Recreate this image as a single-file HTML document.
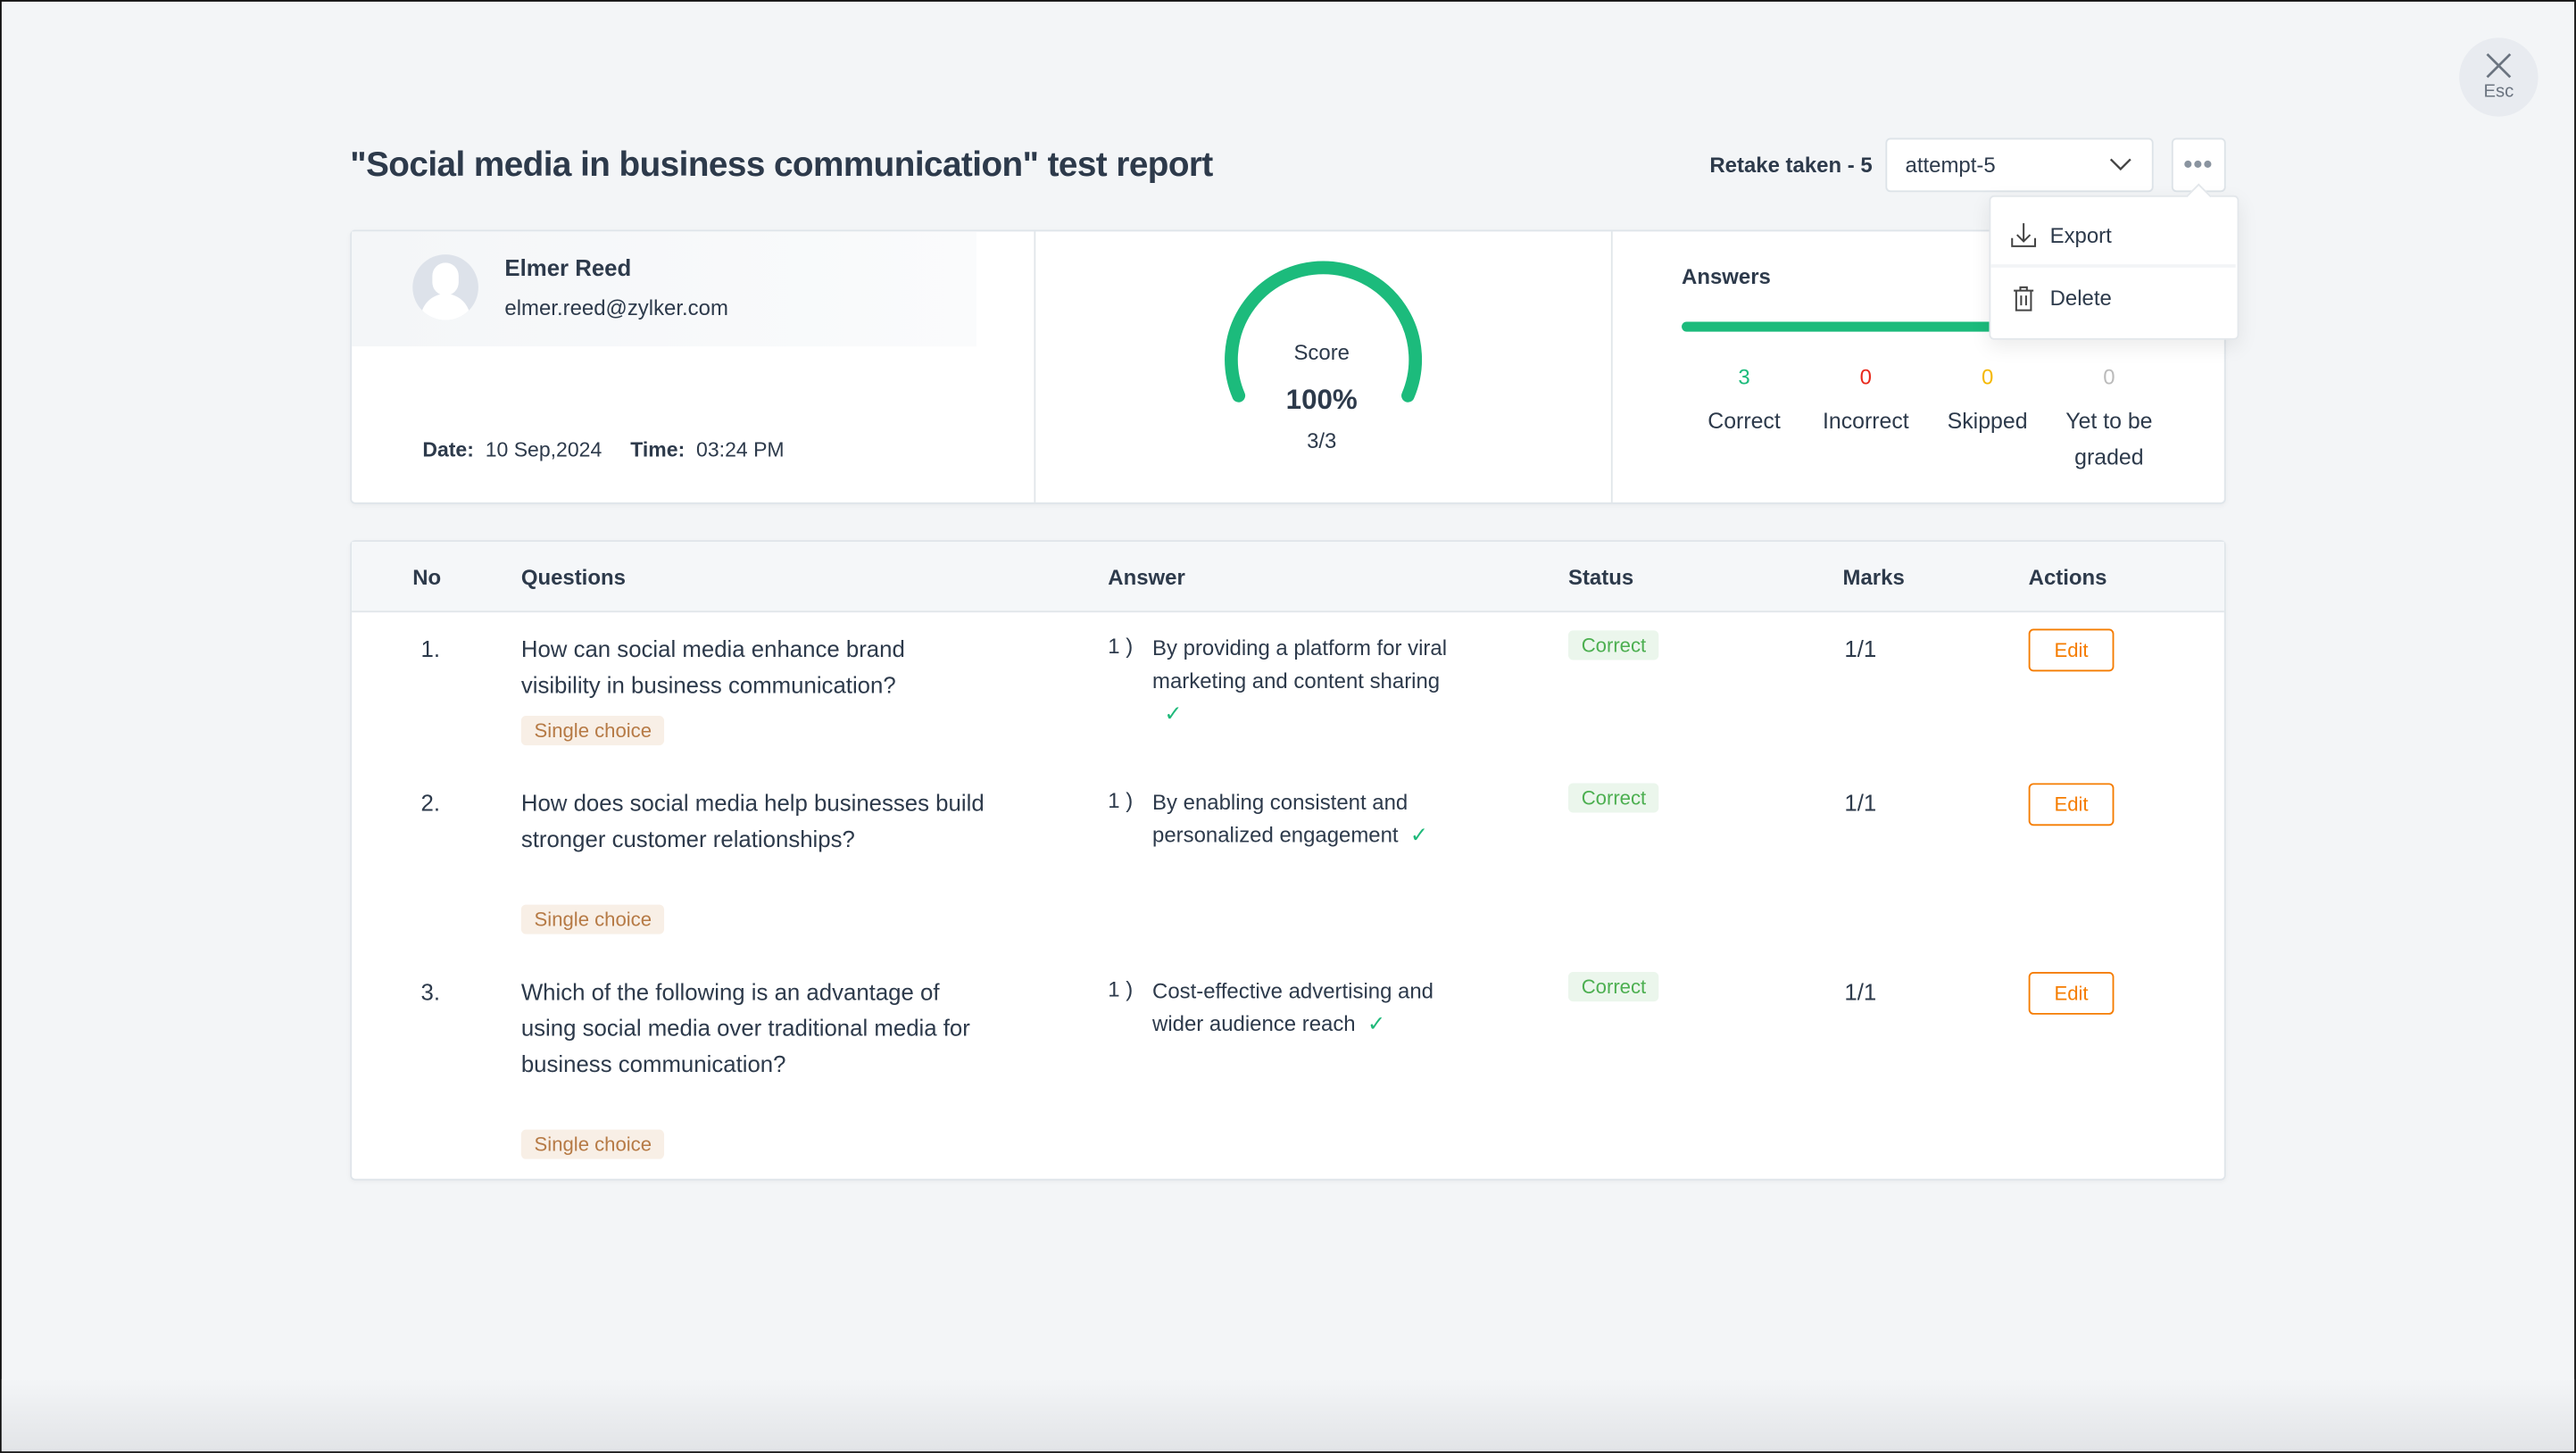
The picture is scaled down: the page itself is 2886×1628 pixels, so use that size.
<!DOCTYPE html>
<html><head><meta charset="utf-8"><style>
html,body{margin:0;padding:0;}
body{width:2886px;height:1628px;overflow:hidden;background:#f3f5f7;}
#s{position:absolute;left:0;top:0;width:1567px;height:885px;transform:scale(1.8417,1.8395);transform-origin:0 0;font-family:"Liberation Sans",sans-serif;color:#2d3a4b;font-size:13px;}
.a{position:absolute;white-space:nowrap;}
.card{position:absolute;background:#fff;border:1px solid #dfe5ea;border-radius:3px;box-shadow:0 1px 3px rgba(0,0,0,0.04);}
.b{font-weight:bold;}
.tag{position:absolute;background:#f8efe6;color:#b67a45;font-size:12px;padding:2px 8px;border-radius:3px;}
.st{position:absolute;background:#ebf6ec;color:#4caf50;font-size:12px;padding:2px 8px;border-radius:3px;}
.ed{position:absolute;border:1px solid #f57c00;color:#f57c00;font-size:12px;width:50px;height:24px;line-height:24px;text-align:center;border-radius:3px;background:#fff;}
.ck{color:#1fb97a;font-size:13px;}
</style></head><body>
<div id="s">
<div style="position:absolute;left:0;top:0;width:1565px;height:883px;border:1px solid #111;"></div>
<div style="position:absolute;left:1px;top:840px;width:1565px;height:44px;background:linear-gradient(#f3f5f7,#e2e4e7);"></div>
<div style="position:absolute;left:1496px;top:23px;width:48px;height:48px;border-radius:50%;background:#e8ebf0;"></div>
<svg style="position:absolute;left:1512px;top:32px" width="16" height="16"><path d="M1 1 L15 15 M15 1 L1 15" stroke="#6b7480" stroke-width="1.5"/></svg>
<div class="a" style="left:1508px;top:50px;font-size:11px;color:#6b7480;width:24px;text-align:center;">Esc</div>
<div class="a b" style="left:213px;top:89px;font-size:21px;letter-spacing:-0.3px;">"Social media in business communication" test report</div>
<div class="a b" style="left:1040px;top:93px;font-size:13px;">Retake taken - 5</div>
<div style="position:absolute;left:1147px;top:84px;width:161px;height:31px;background:#fff;border:1px solid #dde3e8;border-radius:3px;"></div>
<div class="a" style="left:1159px;top:93px;font-size:13px;">attempt-5</div>
<svg style="position:absolute;left:1283px;top:95px" width="14" height="10"><path d="M1 2 L7 8 L13 2" fill="none" stroke="#444" stroke-width="1.3"/></svg>
<div style="position:absolute;left:1321px;top:84px;width:31px;height:31px;background:#fff;border:1px solid #dde3e8;border-radius:3px;"></div>
<svg style="position:absolute;left:1327px;top:96px" width="20" height="8"><circle cx="4" cy="4" r="2.2" fill="#8a94a0"/><circle cx="10" cy="4" r="2.2" fill="#8a94a0"/><circle cx="16" cy="4" r="2.2" fill="#8a94a0"/></svg>
<div class="card" style="left:213px;top:140px;width:1139px;height:165px;"></div>
<div style="position:absolute;left:214px;top:141px;width:380px;height:70px;background:linear-gradient(90deg,#f4f6f8,#fafbfc);"></div>
<div style="position:absolute;left:629px;top:141px;width:1px;height:165px;background:#e1e6ea;"></div>
<div style="position:absolute;left:980px;top:141px;width:1px;height:165px;background:#e1e6ea;"></div>
<div style="position:absolute;left:251px;top:155px;width:40px;height:40px;border-radius:50%;background:#dde2ea;overflow:hidden;">
<div style="position:absolute;left:12px;top:5px;width:16px;height:20px;border-radius:8px;background:#fff;"></div>
<div style="position:absolute;left:5px;top:24px;width:30px;height:20px;border-radius:15px 15px 0 0;background:#fff;"></div></div>
<div class="a b" style="left:307px;top:155px;font-size:14px;">Elmer Reed</div>
<div class="a" style="left:307px;top:180px;font-size:13px;">elmer.reed@zylker.com</div>
<div class="a" style="left:257px;top:267px;font-size:12.5px;"><b>Date:</b>&nbsp; 10 Sep,2024 &nbsp;&nbsp;&nbsp; <b>Time:</b>&nbsp; 03:24 PM</div>
<svg style="position:absolute;left:740px;top:155px" width="130" height="100"><path d="M13.5 86 A56 56 0 1 1 116.5 86" fill="none" stroke="#1cbb7c" stroke-width="8" stroke-linecap="round"/></svg>
<div class="a" style="left:764px;top:207px;width:80px;text-align:center;font-size:13px;">Score</div>
<div class="a b" style="left:764px;top:234px;width:80px;text-align:center;font-size:17px;">100%</div>
<div class="a" style="left:764px;top:261px;width:80px;text-align:center;font-size:13px;">3/3</div>
<div class="a b" style="left:1023px;top:161px;font-size:13px;">Answers</div>
<div style="position:absolute;left:1023px;top:196px;width:290px;height:6px;border-radius:3px;background:#1cbb7c;"></div>
<div class="a" style="left:1031px;top:222px;width:60px;text-align:center;color:#1cbb7c;font-size:13px;">3</div>
<div class="a" style="left:1105px;top:222px;width:60px;text-align:center;color:#e8291c;font-size:13px;">0</div>
<div class="a" style="left:1179px;top:222px;width:60px;text-align:center;color:#f5b800;font-size:13px;">0</div>
<div class="a" style="left:1253px;top:222px;width:60px;text-align:center;color:#bbb;font-size:13px;">0</div>
<div class="a" style="left:1026px;top:249px;width:70px;text-align:center;font-size:13.5px;">Correct</div>
<div class="a" style="left:1100px;top:249px;width:70px;text-align:center;font-size:13.5px;">Incorrect</div>
<div class="a" style="left:1174px;top:249px;width:70px;text-align:center;font-size:13.5px;">Skipped</div>
<div class="a" style="left:1248px;top:246px;width:70px;text-align:center;font-size:13.5px;line-height:22px;white-space:normal;">Yet to be graded</div>
<div style="position:absolute;left:1210px;top:119px;width:150px;height:86px;background:#fff;border:1px solid #e3e7eb;border-radius:3px;box-shadow:0 4px 12px rgba(0,0,0,0.08);"></div>
<div style="position:absolute;left:1211px;top:161px;width:149px;height:2px;background:#f2f4f6;"></div>
<div style="position:absolute;left:1332px;top:114px;width:10px;height:10px;background:#fff;transform:rotate(45deg);border-left:1px solid #e3e7eb;border-top:1px solid #e3e7eb;"></div>
<svg style="position:absolute;left:1223px;top:135px" width="16" height="17"><path d="M8 1 V12 M4 8 L8 12 L12 8 M1 10 V15 H15 V10" fill="none" stroke="#444" stroke-width="1.1"/></svg>
<div class="a" style="left:1247px;top:136px;font-size:13px;">Export</div>
<svg style="position:absolute;left:1224px;top:174px" width="14" height="16"><path d="M1 3 H13 M5 3 V1 H9 V3 M2.5 3 V15 H11.5 V3 M5.5 6 V12 M8.5 6 V12" fill="none" stroke="#444" stroke-width="1.1"/></svg>
<div class="a" style="left:1247px;top:174px;font-size:13px;">Delete</div>
<div class="card" style="left:213px;top:329px;width:1139px;height:388px;"></div>
<div style="position:absolute;left:214px;top:330px;width:1139px;height:42px;background:#f5f7f9;border-bottom:1px solid #e1e6ea;"></div>
<div class="a b" style="left:251px;top:344px;">No</div>
<div class="a b" style="left:317px;top:344px;">Questions</div>
<div class="a b" style="left:674px;top:344px;">Answer</div>
<div class="a b" style="left:954px;top:344px;">Status</div>
<div class="a b" style="left:1121px;top:344px;">Marks</div>
<div class="a b" style="left:1234px;top:344px;">Actions</div>
<div class="a" style="left:256px;top:387px;font-size:14px;">1.</div>
<div class="a" style="left:317px;top:384px;font-size:14px;line-height:22px;">How can social media enhance brand<br>visibility in business communication?</div>
<div class="tag" style="left:317px;top:436px;">Single choice</div>
<div class="a" style="left:674px;top:386px;font-size:13px;">1 )</div>
<div class="a" style="left:701px;top:385px;font-size:13px;line-height:20px;">By providing a platform for viral<br>marketing and content sharing<br>&nbsp;&nbsp;<span class="ck">✓</span></div>
<div class="st" style="left:954px;top:384px;">Correct</div>
<div class="a" style="left:1122px;top:387px;font-size:14px;">1/1</div>
<div class="ed" style="left:1234px;top:383px;">Edit</div>
<div class="a" style="left:256px;top:481px;font-size:14px;">2.</div>
<div class="a" style="left:317px;top:478px;font-size:14px;line-height:22px;">How does social media help businesses build<br>stronger customer relationships?</div>
<div class="tag" style="left:317px;top:551px;">Single choice</div>
<div class="a" style="left:674px;top:480px;font-size:13px;">1 )</div>
<div class="a" style="left:701px;top:479px;font-size:13px;line-height:20px;">By enabling consistent and<br>personalized engagement &nbsp;<span class="ck">✓</span></div>
<div class="st" style="left:954px;top:477px;">Correct</div>
<div class="a" style="left:1122px;top:481px;font-size:14px;">1/1</div>
<div class="ed" style="left:1234px;top:477px;">Edit</div>
<div class="a" style="left:256px;top:596px;font-size:14px;">3.</div>
<div class="a" style="left:317px;top:593px;font-size:14px;line-height:22px;">Which of the following is an advantage of<br>using social media over traditional media for<br>business communication?</div>
<div class="tag" style="left:317px;top:688px;">Single choice</div>
<div class="a" style="left:674px;top:595px;font-size:13px;">1 )</div>
<div class="a" style="left:701px;top:594px;font-size:13px;line-height:20px;">Cost-effective advertising and<br>wider audience reach &nbsp;<span class="ck">✓</span></div>
<div class="st" style="left:954px;top:592px;">Correct</div>
<div class="a" style="left:1122px;top:596px;font-size:14px;">1/1</div>
<div class="ed" style="left:1234px;top:592px;">Edit</div>
</div>
</body></html>
